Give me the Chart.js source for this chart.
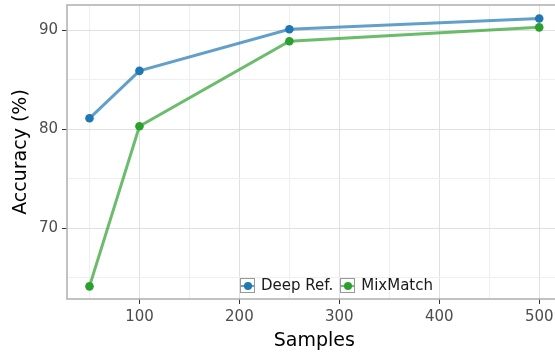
<!DOCTYPE html>
<html>
<head>
<meta charset="utf-8">
<script src="https://cdn.jsdelivr.net/npm/chart.js@4/dist/chart.umd.min.js"></script>
<style>
  html, body { margin: 0; padding: 0; background: #fff; overflow: hidden; }
  #wrap { position: relative; width: 566px; height: 354px; }
  #legend { position: absolute; left: 240px; top: 276px; font: 15px "DejaVu Sans", sans-serif; color: #1a1a1a; display: flex; align-items: center; white-space: nowrap; }
  .key { position: relative; width: 13px; height: 13px; border: 1px solid #999; margin-right: 6px; }
  .key i { position: absolute; left: 0; right: 0; top: 6px; height: 2px; }
  .key b { position: absolute; left: 3px; top: 3px; width: 8px; height: 8px; border-radius: 50%; }
  .lab { margin-right: 7px; }
</style>
</head>
<body>
<div id="wrap">
  <canvas id="chart" width="566" height="354"></canvas>
  <div id="legend"></div>
</div>
<script>
// samples on the x axis
var samples = [50, 100, 250, 500];
// accuracy (%)
var deepRef = [81.1, 85.9, 90.1, 91.2];
var mixMatch = [64.1, 80.3, 88.9, 90.3];
var seriesNames = ['Deep Ref.', 'MixMatch'];

var xTicks = [50, 100, 150, 200, 250, 300, 350, 400, 450, 500];
var yTicks = [65, 70, 75, 80, 85, 90];

function pts(ys) {
    return samples.map(function (x, i) { return {x: x, y: ys[i]}; });
}

var frame = {
    id: 'frame',
    afterDatasetsDraw: function (chart) {
        var a = chart.chartArea, c = chart.ctx;
        c.save();
        c.strokeStyle = '#b3b3b3';
        c.lineWidth = 1.6;
        c.strokeRect(a.left, a.top, a.right - a.left, a.bottom - a.top);
        c.restore();
    }
};

var font = '"DejaVu Sans", sans-serif';
var ctx = document.getElementById('chart');
var chart = new Chart(ctx, {
    type: 'line',
    data: {
        datasets: [
            {
                label: seriesNames[0],
                data: pts(deepRef),
                borderColor: 'rgba(31,119,180,0.7)',
                backgroundColor: '#1f77b4',
                pointBackgroundColor: '#1f77b4',
                pointBorderWidth: 0,
                pointRadius: 4.3,
                borderWidth: 3
            },
            {
                label: seriesNames[1],
                data: pts(mixMatch),
                borderColor: 'rgba(44,160,44,0.7)',
                backgroundColor: '#2ca02c',
                pointBackgroundColor: '#2ca02c',
                pointBorderWidth: 0,
                pointRadius: 4.3,
                borderWidth: 3
            }
        ]
    },
    options: {
        responsive: false,
        animation: false,
        layout: {padding: {left: 0, right: 3, top: 5, bottom: 0}},
        plugins: {legend: {display: false}, tooltip: {enabled: false}},
        scales: {
            x: {
                type: 'linear',
                min: 27.5,
                max: 522.5,
                afterBuildTicks: function (s) { s.ticks = xTicks.map(function (v) { return {value: v}; }); },
                afterFit: function (s) { s.height = 55; s.paddingLeft = 0; s.paddingRight = 0; },
                border: {display: false},
                grid: {
                    color: function (c) { return c.tick && c.tick.value % 100 ? '#efefef' : '#e0e0e0'; },
                    tickColor: function (c) { return c.tick && c.tick.value % 100 ? 'rgba(0,0,0,0)' : '#333'; },
                    tickLength: 5,
                    lineWidth: 1
                },
                ticks: {
                    autoSkip: false,
                    maxRotation: 0,
                    padding: 4,
                    color: '#4d4d4d',
                    font: {family: font, size: 15},
                    callback: function (v) { return v % 100 ? '' : v; }
                },
                title: {display: true, text: 'Samples', color: '#000', font: {family: font, size: 19}, padding: {top: 0, bottom: 2}}
            },
            y: {
                min: 62.82,
                max: 92.56,
                afterBuildTicks: function (s) { s.ticks = yTicks.map(function (v) { return {value: v}; }); },
                afterFit: function (s) { s.width = 67; s.paddingTop = 0; s.paddingBottom = 0; },
                border: {display: false},
                grid: {
                    color: function (c) { return c.tick && c.tick.value % 10 ? '#efefef' : '#e0e0e0'; },
                    tickColor: function (c) { return c.tick && c.tick.value % 10 ? 'rgba(0,0,0,0)' : '#333'; },
                    tickLength: 5,
                    lineWidth: 1
                },
                ticks: {
                    autoSkip: false,
                    padding: 4,
                    color: '#4d4d4d',
                    font: {family: font, size: 15},
                    callback: function (v) { return v % 10 ? '' : v; }
                },
                title: {display: true, text: 'Accuracy (%)', color: '#000', font: {family: font, size: 19}, padding: {top: 10, bottom: 0}}
            }
        }
    },
    plugins: [frame]
});

// legend inside the plot, bottom centre
var leg = document.getElementById('legend');
chart.data.datasets.forEach(function (d) {
    var k = document.createElement('span');
    k.className = 'key';
    k.innerHTML = '<i style="background:' + d.borderColor + '"></i><b style="background:' + d.pointBackgroundColor + '"></b>';
    var t = document.createElement('span');
    t.className = 'lab';
    t.textContent = d.label;
    leg.appendChild(k);
    leg.appendChild(t);
});
</script>
</body>
</html>
